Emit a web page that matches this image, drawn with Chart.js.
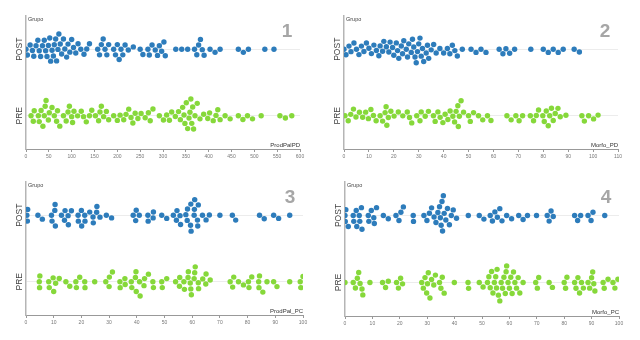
<!DOCTYPE html>
<html><head><meta charset="utf-8">
<script src="https://cdn.jsdelivr.net/npm/chart.js@4"></script>
<style>
html,body{margin:0;padding:0;background:#fff;width:640px;height:340px;overflow:hidden;}
.p{position:absolute;width:320px;height:170px;}
canvas{display:block;}
</style></head><body>
<div class="p" style="left:0;top:0"><canvas id="c1" width="320" height="170"></canvas></div>
<div class="p" style="left:320px;top:0"><canvas id="c2" width="320" height="170"></canvas></div>
<div class="p" style="left:0;top:170px"><canvas id="c3" width="320" height="170"></canvas></div>
<div class="p" style="left:320px;top:170px"><canvas id="c4" width="320" height="170"></canvas></div>
<script>
// ---- data ----
const groups = ['POST', 'PRE'];
const variables = ['ProdPalPD', 'Morfo_PD', 'ProdPal_PC', 'Morfo_PC'];
const panelNumbers = ['1', '2', '3', '4'];
const xMax = [600, 110, 100, 100];
const xStep = [50, 10, 10, 10];

const prodPalPD_POST = [0, 3, 9, 14, 17, 22, 26, 29, 32, 36, 40, 43, 46, 49, 52, 54, 57, 60, 62, 65, 67, 70, 72, 75, 78, 82, 85, 89, 92, 96, 100, 104, 109, 114, 120, 127, 133, 139,
  157, 161, 165, 169, 173, 177, 181, 192, 196, 200, 204, 208, 212, 217, 224, 235,
  250, 256, 267, 270, 276, 283, 288, 292, 297, 302, 305, 328, 341, 354,
  369, 374, 378, 382, 386, 390, 403, 414, 425, 465, 476, 487, 523, 543];
const prodPalPD_PRE = [11, 16, 18, 27, 29, 33, 37, 40, 42, 44, 49, 51, 57, 62, 67, 69, 74, 82, 88, 92, 95, 100, 102, 105, 113, 121, 126, 132, 139, 144, 152, 159, 162, 165, 170, 176, 181, 192, 200, 206, 214, 219, 225, 230, 234, 239, 245, 252, 261, 268, 272, 278,
  292, 301, 308, 314, 319, 327, 334, 338, 343, 346, 348, 351, 354, 357, 359, 361, 363, 365, 367, 370, 375, 381, 389, 398, 402, 410, 416, 420, 425, 436, 447, 465, 475, 485, 496, 515, 556, 568, 582];

const morfoPD_POST = [0, 0.8, 2, 2.8, 4, 5, 6, 7, 8, 9, 10, 11, 12, 13,
  14, 14.5, 15.5, 16, 17, 18, 18.5, 19.5, 20, 21, 21.5, 22, 23, 23.5, 24, 25, 25.5, 26, 27, 27.5, 28, 28.5, 29, 29.5, 30, 30.5, 31, 31.5, 32, 33, 33.5, 34, 35, 36, 37,
  38.5, 40, 41.5, 42.5, 43.5, 44.5, 45.5, 47.5, 51, 53, 55, 57, 62.3, 63.8, 65, 66.5, 68.5, 75, 80, 82, 84, 86, 88, 92.4, 94.5];
const morfoPD_PRE = [0.4, 1.7, 2.7, 3.8, 4.8, 6.2, 7.5, 8.7, 9.8, 10.8, 11.8, 12.9, 14.5, 15.5, 16.5, 16.9, 17.2, 17.8, 18.8, 20.1, 21.8, 23.6, 25.4, 26.3, 27.2, 29.2, 30.5, 31, 32.6, 33.9, 35.9, 36.6, 37.7, 38.6, 39.7, 40.6, 41.7, 42.6, 43.7, 44.4, 45, 45.7, 45.9, 46.3, 47, 48, 50, 50.7, 52, 54, 55.7, 57.6, 59,
  65.4, 67.1, 69, 70.3, 71.7, 74.8, 76.1, 77.2, 78.1, 79.8, 80.4, 81.2, 82, 82.6, 83.3, 84, 84.8, 85.9, 86.8, 89.1, 95.5, 96.5, 98.2, 100.2, 102];

const prodPalPC_POST = [0.3, 0.5, 0.6, 4.3, 5.9, 9.2, 9.4, 10.4, 10.5, 10.6, 12.8, 13.9, 14.1, 15.2, 15.3, 16.4, 18.8, 18.9, 20, 20.1, 21.2, 21.3, 23, 24.2, 24.3, 25.5, 25.6, 26.7, 29, 30.9,
  38.7, 39.6, 39.8, 40.9, 44, 44.1, 45.9, 46, 49, 50.8, 53.2, 54.3, 54.5, 55.6, 55.8, 57.7, 58.2, 58.3, 59.4, 59.5, 59.6, 60.7, 60.8, 60.9, 61.9, 62, 62.2, 63.7, 65, 66.2, 70, 74.5, 75.7, 84.3, 86, 89.4, 91.2, 95.2];
const prodPalPC_PRE = [4.8, 4.9, 5, 8.2, 8.4, 9.8, 10, 10.7, 12, 14.4, 15.8, 18, 18.2, 19.4, 21.2, 21.3, 24.8, 28.8, 30, 30.1, 31.2, 33.9, 34, 35.7, 35.8, 38, 38.2, 39.5, 39.7, 39.8, 41, 41.2, 42.6, 42.8, 44.2, 45.8, 46, 49, 49.2, 50.8,
  54, 55.4, 55.5, 57, 57.2, 58.5, 58.6, 59.3, 59.5, 59.7, 60.7, 60.9, 61.1, 62.2, 62.3, 63.8, 64.9, 65, 66.5, 73.7, 74.6, 75, 76.7, 78.5, 80.3, 80.5, 81.5, 84, 84.1, 84.3, 85.5, 87, 89.4, 90.6, 95.2, 99, 99.2, 100];

const morfoPC_POST = [0, 0.1, 0.3, 1.2, 3, 3.2, 4.1, 4.3, 5.2, 5.4, 6, 6.2, 8.5, 8.7, 9.6, 10.5, 10.7, 11.5, 14, 15.8, 18.6, 19.7, 20.4, 21.3, 24.9, 25, 28.8, 29.9, 30.8, 31.6,
  32.5, 33.2, 33.9, 34.5, 34.8, 35.1, 35.4, 35.6, 35.9, 36.2, 36.8, 37.4, 38.1, 38.8, 39.5, 40.7, 45, 49, 50.7, 53, 53.8, 54.7, 55.6, 56.5, 57.3, 59, 60.8, 63.4, 65, 66.6, 69.9, 73.8, 74.5, 75.2, 76, 83.8, 84.9, 86, 88.7, 89.8, 90.5, 94.8];
const morfoPC_PRE = [0, 3, 3.8, 4.5, 5, 5.5, 6.2, 6.5, 9.1, 13.7, 14.8, 15.8, 18.8, 19.5, 20.3, 21, 28, 28.6, 29.2, 29.8, 30.1, 30.4, 31, 31.6, 32.4, 33, 34.5, 35, 35.5, 36.2, 39.9, 44.9, 45.1, 49, 50.4,
  52, 52.5, 53, 53.5, 54, 54.5, 55, 55.3, 55.5, 56, 56.5, 57, 57.5, 58, 58.5, 58.8, 59, 59.5, 60, 60.5, 61, 61.5, 62, 62.6, 63.2, 63.8, 65,
  69.6, 70.2, 70.7, 74.5, 75.7, 80, 80.5, 81, 83.8, 84.3, 85, 85.6, 86.3, 87, 88.7, 89.3, 90, 90.4, 90.8, 91.2, 94.2, 94.6, 96, 97.8, 98.5, 99.6];

const postSeries = [prodPalPD_POST, morfoPD_POST, prodPalPC_POST, morfoPC_POST];
const preSeries = [prodPalPD_PRE, morfoPD_PRE, prodPalPC_PRE, morfoPC_PRE];

// ---- styling / layout ----
const POST_COLOR = '#2d7cbb';
const PRE_COLOR = '#86d83a';
const R = 2.7;
const layouts = [
  {id:'c1', yW:26, xH:21, top:16, right:20},
  {id:'c2', yW:24, xH:21, top:16, right:22},
  {id:'c3', yW:26, xH:25, top:12, right:17},
  {id:'c4', yW:25, xH:24, top:12, right:21}
];

const textPlugin = {
  id: 'texts',
  afterDraw(chart) {
    const ctx = chart.ctx, a = chart.chartArea, o = chart.options.plugins.texts;
    const ys = chart.scales.y;
    ctx.save();
    ctx.fillStyle = '#444';
    ctx.font = '5.5px "Liberation Sans", Arial, sans-serif';
    ctx.textAlign = 'left'; ctx.textBaseline = 'top';
    ctx.fillText('Grupo', a.left + 2, a.top + 1);
    ctx.font = '6px "Liberation Sans", Arial, sans-serif';
    ctx.textAlign = 'right'; ctx.textBaseline = 'bottom';
    ctx.fillStyle = '#333';
    ctx.fillText(o.xTitle, a.right, a.bottom - 1);
    ctx.font = 'bold 19px "Liberation Sans", Arial, sans-serif';
    ctx.fillStyle = '#a6a6a6';
    ctx.textAlign = 'center'; ctx.textBaseline = 'middle';
    ctx.fillText(o.num, a.right - 13, a.top + 16);
    ctx.font = '8.5px "Liberation Sans", Arial, sans-serif';
    ctx.fillStyle = '#444';
    groups.forEach((g, i) => {
      const py = ys.getPixelForValue(i === 0 ? 1 : 0);
      ctx.save();
      ctx.translate(a.left - 6, py);
      ctx.rotate(-Math.PI / 2);
      ctx.textAlign = 'center'; ctx.textBaseline = 'middle';
      ctx.fillText(g, 0, 0);
      ctx.restore();
    });
    ctx.restore();
  }
};

function swarm(chart) {
  const xs = chart.scales.x, ys = chart.scales.y;
  const D = 2 * R + 0.5;
  chart.data.datasets.forEach(ds => {
    const by = ys.getPixelForValue(ds.row);
    const pts = ds.values.map(v => ({v, px: xs.getPixelForValue(v)})).sort((a, b) => a.px - b.px);
    const placed = [];
    pts.forEach(p => {
      const near = placed.filter(q => p.px - q.px < D);
      const cands = [0];
      near.forEach(q => {
        const dx = p.px - q.px;
        const h = Math.sqrt(Math.max(0, D * D - dx * dx));
        cands.push(q.dy + h, q.dy - h);
      });
      cands.sort((a, b) => Math.abs(a) - Math.abs(b));
      for (const c of cands) {
        if (near.every(q => { const dx = p.px - q.px, dy = c - q.dy; return dx * dx + dy * dy >= D * D - 0.01; })) { p.dy = c; break; }
      }
      if (p.dy === undefined) p.dy = 0;
      placed.push(p);
    });
    ds.data = pts.map(p => ({x: p.v, y: ys.getValueForPixel(by + p.dy)}));
  });
  chart.update('none');
}

layouts.forEach((L, i) => {
  const chart = new Chart(document.getElementById(L.id), {
    type: 'scatter',
    data: {
      datasets: [
        {label: 'POST', row: 1, values: postSeries[i], data: postSeries[i].map(v => ({x: v, y: 1})), backgroundColor: POST_COLOR, borderWidth: 0, pointRadius: R, pointHoverRadius: R},
        {label: 'PRE', row: 0, values: preSeries[i], data: preSeries[i].map(v => ({x: v, y: 0})), backgroundColor: PRE_COLOR, borderWidth: 0, pointRadius: R, pointHoverRadius: R}
      ]
    },
    options: {
      responsive: false, animation: false, events: [],
      layout: {padding: {top: L.top, right: L.right, left: 0, bottom: 0}},
      plugins: {legend: {display: false}, tooltip: {enabled: false}, texts: {xTitle: variables[i], num: panelNumbers[i]}},
      scales: {
        x: {
          type: 'linear', min: 0, max: xMax[i],
          afterFit: s => { s.height = L.xH; },
          ticks: {stepSize: xStep[i], color: '#777', font: {size: 5, family: '"Liberation Sans", Arial, sans-serif'}, padding: 2, maxRotation: 0, autoSkip: false},
          grid: {display: true, drawOnChartArea: false, drawTicks: true, tickLength: 3, color: '#999'},
          border: {display: true, color: '#999', width: 1}
        },
        y: {
          type: 'linear', min: -0.5, max: 1.5,
          afterFit: s => { s.width = L.yW; },
          afterBuildTicks: s => { s.ticks = [{value: 0}, {value: 1}]; },
          ticks: {display: false},
          grid: {color: '#ececec', lineWidth: 1, drawTicks: false},
          border: {display: true, color: '#b5b5b5', width: 1.5}
        }
      }
    },
    plugins: [textPlugin]
  });
  swarm(chart);
});
</script>
</body></html>
